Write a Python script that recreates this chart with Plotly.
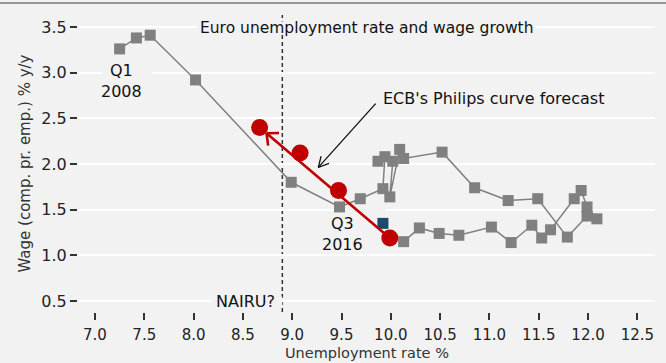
import math
import plotly.graph_objects as go

# Euro area: unemployment rate (%) vs. wage growth (comp. per employee, % y/y), Q1 2008 -> Q3 2016
unemp = [7.25, 7.42, 7.56, 8.02, 8.99, 9.48, 9.69, 9.92, 9.94, 9.87, 10.02, 9.99,
         10.09, 10.13, 10.52, 10.85, 11.19, 11.49, 11.79, 11.99, 12.09, 11.99, 11.93,
         11.86, 11.62, 11.53, 11.43, 11.22, 11.02, 10.69, 10.49, 10.29, 10.13]
wage = [3.26, 3.38, 3.41, 2.92, 1.80, 1.53, 1.62, 1.73, 2.08, 2.03, 2.03, 1.64,
        2.16, 2.06, 2.13, 1.74, 1.60, 1.62, 1.20, 1.43, 1.40, 1.53, 1.71,
        1.62, 1.28, 1.19, 1.33, 1.14, 1.31, 1.22, 1.24, 1.30, 1.15]

# ECB Phillips-curve projection (starts at Q3 2016, drawn as an arrow towards lower unemployment)
ecb_unemp = [8.67, 9.08, 9.47, 9.99]
ecb_wage = [2.40, 2.12, 1.71, 1.19]

# Highlighted single observation
mark_unemp = [9.92]
mark_wage = [1.35]

nairu = 8.90

x_ticks = [7.0, 7.5, 8.0, 8.5, 9.0, 9.5, 10.0, 10.5, 11.0, 11.5, 12.0, 12.5]
y_ticks = [0.5, 1.0, 1.5, 2.0, 2.5, 3.0, 3.5]

title_text = "Euro unemployment rate and wage growth"
x_title = "Unemployment rate %"
y_title = "Wage (comp. pr. emp.) % y/y"

# ---- layout constants ----
W, H = 666, 363
M = dict(l=78, r=11, t=15, b=51)
XR = [6.828, 12.679]
YR = [0.380, 3.631]
BG = "#f2f2f2"
FONT = "DejaVu Sans"
GRAY = "#808080"
RED = "#c00000"
NAVY = "#1a4a6e"

PW = W - M["l"] - M["r"]
PH = H - M["t"] - M["b"]
SX = PW / (XR[1] - XR[0])   # px per x unit
SY = PH / (YR[1] - YR[0])   # px per y unit


def screen_dir(x0, y0, x1, y1):
    """Unit vector (screen px, y down) pointing from (x0,y0) to (x1,y1)."""
    dx = (x1 - x0) * SX
    dy = -(y1 - y0) * SY
    n = math.hypot(dx, dy)
    return dx / n, dy / n


def arrow(tail, head, color, width, standoff, arm_len, arm_deg):
    """Shaft plus an open chevron head, as annotations."""
    ux, uy = screen_dir(tail[0], tail[1], head[0], head[1])
    tip_x = head[0] - ux * standoff / SX
    tip_y = head[1] + uy * standoff / SY
    anns = [dict(x=tip_x, y=tip_y, ax=tail[0], ay=tail[1], xref="x", yref="y",
                 axref="x", ayref="y", showarrow=True, arrowhead=0,
                 arrowwidth=width, arrowcolor=color, text="")]
    bx, by = -ux, -uy
    for s in (1, -1):
        a = math.radians(arm_deg) * s
        rx = bx * math.cos(a) - by * math.sin(a)
        ry = bx * math.sin(a) + by * math.cos(a)
        anns.append(dict(x=tip_x, y=tip_y, ax=rx * arm_len, ay=ry * arm_len,
                         xref="x", yref="y", showarrow=True, arrowhead=0,
                         arrowwidth=width, arrowcolor=color, text=""))
    return anns


fig = go.Figure()

fig.add_trace(go.Scatter(
    x=unemp, y=wage, mode="lines+markers",
    line=dict(color=GRAY, width=1.5),
    marker=dict(symbol="square", size=11, color=GRAY),
    hoverinfo="skip", showlegend=False))

fig.add_trace(go.Scatter(
    x=mark_unemp, y=mark_wage, mode="markers",
    marker=dict(symbol="square", size=11, color=NAVY),
    hoverinfo="skip", showlegend=False))

fig.add_trace(go.Scatter(
    x=ecb_unemp, y=ecb_wage, mode="markers",
    marker=dict(symbol="circle", size=17, color=RED),
    hoverinfo="skip", showlegend=False))

# background patches that break the gridlines behind text labels
patches = [
    (8.03, 11.46, 3.44, 3.56),   # title
    (7.07, 7.58, 2.95, 3.05),    # Q1 2008
    (9.44, 9.95, 1.45, 1.55),    # Q3 2016
    (8.18, 8.90, 0.45, 0.55),    # NAIRU?
]
shapes = [dict(type="rect", x0=a, x1=b, y0=c, y1=d, xref="x", yref="y",
               fillcolor=BG, line=dict(width=0), layer="between") for a, b, c, d in patches]

shapes.append(dict(type="line", x0=nairu, x1=nairu, y0=0, y1=1, xref="x", yref="paper",
                   line=dict(color="#333333", width=1.5, dash="4px,3px"), layer="between"))

# thin rule across the top of the figure
shapes.append(dict(type="line", x0=-M["l"] / PW, x1=1 + M["r"] / PW,
                   y0=1 + 12 / PH, y1=1 + 12 / PH, xref="paper", yref="paper",
                   line=dict(color="#7a7a7a", width=1.5)))

txt = dict(family=FONT, size=16, color="#111111")
annotations = [
    dict(x=0.5, y=3.49, xref="paper", yref="y", text=title_text, showarrow=False,
         font=dict(family=FONT, size=15.5, color="#111111"), xanchor="center", yanchor="middle"),
    dict(x=7.27, y=2.91, xref="x", yref="y", text="Q1<br>2008", showarrow=False,
         font=txt, xanchor="center", yanchor="middle"),
    dict(x=9.51, y=1.23, xref="x", yref="y", text="Q3<br>2016", showarrow=False,
         font=txt, xanchor="center", yanchor="middle"),
    dict(x=nairu - 0.05, y=0.5, xref="x", yref="y", text="NAIRU?", showarrow=False,
         font=txt, xanchor="right", yanchor="middle"),
    dict(x=9.90, y=2.72, xref="x", yref="y", text="ECB's Philips curve forecast",
         showarrow=False, font=txt, xanchor="left", yanchor="middle"),
    dict(x=0.5, y=-50 / PH, xref="paper", yref="paper", text=x_title, showarrow=False,
         font=dict(family=FONT, size=14.5, color="#333333"), xanchor="center", yanchor="bottom",
         borderpad=0),
    dict(x=-54 / PW, y=0.5, xref="paper", yref="paper", text=y_title, showarrow=False,
         textangle=-90, font=dict(family=FONT, size=15, color="#333333"),
         xanchor="center", yanchor="middle"),
]

# ECB projection arrow: from the latest point towards the projected end point
annotations += arrow((ecb_unemp[-1], ecb_wage[-1]), (ecb_unemp[0], ecb_wage[0]),
                     RED, 2.6, 9, 14, 42)
# pointer from the label to the projection
annotations += arrow((9.86, 2.677), (9.265, 1.963), "#111111", 1.3, 0, 13, 28)

fig.update_layout(
    width=W, height=H, margin=M,
    paper_bgcolor=BG, plot_bgcolor=BG,
    font=dict(family=FONT, size=16, color="#222222"),
    shapes=shapes, annotations=annotations,
    showlegend=False,
)
fig.update_xaxes(range=XR, tickvals=x_ticks, ticktext=[f"{v:.1f}" for v in x_ticks],
                 showgrid=False, zeroline=False, showline=False,
                 ticks="outside", ticklen=7, tickwidth=1.5, tickcolor="#333333",
                 ticklabelstandoff=2,
                 tickfont=dict(family=FONT, size=15, color="#222222"))
fig.update_yaxes(range=YR, tickvals=y_ticks, ticktext=[f"{v:.1f}" for v in y_ticks],
                 showgrid=True, gridcolor="#ffffff", gridwidth=2, zeroline=False, showline=False,
                 ticks="outside", ticklen=7, tickwidth=1.5, tickcolor="#333333",
                 tickfont=dict(family=FONT, size=16, color="#222222"))

fig.write_html("out.html")
